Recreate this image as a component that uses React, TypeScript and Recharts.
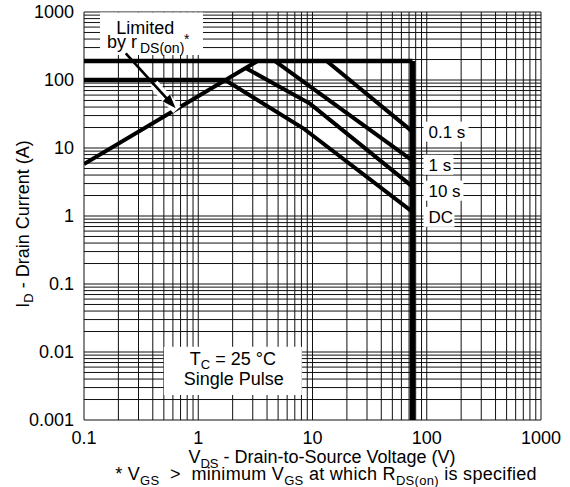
import React from 'react';
import {
  LineChart,
  Line,
  XAxis,
  YAxis,
  CartesianGrid,
  ReferenceArea,
  ReferenceLine,
  ReferenceDot,
} from 'recharts';

const FONT = '"Liberation Sans", Arial, Helvetica, sans-serif';

// axis ticks (major decades)
const xTicks = [0.1, 1, 10, 100, 1000];
const yTicks = [0.001, 0.01, 0.1, 1, 10, 100, 1000];
// log grid: decade starts x mantissas 1..9
const mantissas = [1, 2, 3, 4, 5, 6, 7, 8, 9];
const xDecades = [0.1, 1, 10, 100];
const yDecades = [0.001, 0.01, 0.1, 1, 10, 100];
const xGrid = [...xDecades.flatMap((d) => mantissas.map((m) => +(d * m).toPrecision(3))), 1000];
const yGrid = [...yDecades.flatMap((d) => mantissas.map((m) => +(d * m).toPrecision(3))), 1000];

// series (V in volts, I in amperes)
const packageLimit = [
  { v: 0.1, i: 190 },
  { v: 75, i: 190 },
];
const breakdownLimit = [
  { v: 75, i: 190 },
  { v: 75, i: 0.001 },
];
const currentLimit = [
  { v: 0.1, i: 100 },
  { v: 1.72, i: 100 },
];
const rdsLimit = [
  { v: 0.1, i: 5.8 },
  { v: 3.3, i: 190 },
];
const dcCurve = [
  { v: 1.72, i: 100 },
  { v: 8.3, i: 19.5 },
  { v: 75, i: 1.15 },
];
const s10Curve = [
  { v: 2.6, i: 150 },
  { v: 9.5, i: 45 },
  { v: 75, i: 2.7 },
];
const s1Curve = [
  { v: 4.7, i: 190 },
  { v: 75, i: 6.5 },
];
const s01Curve = [
  { v: 13.3, i: 190 },
  { v: 75, i: 17.4 },
];

const curveLabels = [
  { text: '0.1 s', data: s01Curve, w: 45, dy: 0 },
  { text: '1 s', data: s1Curve, w: 30, dy: 4 },
  { text: '10 s', data: s10Curve, w: 40, dy: 4 },
  { text: 'DC', data: dcCurve, w: 31, dy: 5 },
];

const scaleFn = (axis: any) => {
  const s = axis && axis.scale;
  return (v: number) => {
    if (typeof s === 'function') return s(v);
    if (s && typeof s.map === 'function') return s.map(v);
    return NaN;
  };
};

const ArrowShape = (props: any) => {
  const { x1, y1, x2, y2 } = props;
  if (![x1, y1, x2, y2].every((n: any) => Number.isFinite(n))) return null;
  const dx = x2 - x1;
  const dy = y2 - y1;
  const len = Math.sqrt(dx * dx + dy * dy);
  const ux = dx / len;
  const uy = dy / len;
  const headL = 14;
  const headW = 5;
  const bx = x2 - ux * headL;
  const by = y2 - uy * headL;
  const px = -uy;
  const py = ux;
  const hx = x1 + dx * 0.56;
  const hy = y1 + dy * 0.56;
  return (
    <g>
      <line x1={hx} y1={hy} x2={x2 + ux * 2} y2={y2 + uy * 2} stroke="#fff" strokeWidth={10} />
      <line x1={x1} y1={y1} x2={bx + ux * 2} y2={by + uy * 2} stroke="#000" strokeWidth={2.6} />
      <polygon
        points={`${x2},${y2} ${bx + px * headW},${by + py * headW} ${bx - px * headW},${by - py * headW}`}
        fill="#000"
      />
    </g>
  );
};

const LimitedLabel = (props: any) => {
  const vb = props.viewBox || { x: 100, y: 13, width: 103, height: 42 };
  const cx = vb.x + vb.width * 0.44;
  return (
    <g fontFamily={FONT} fill="#000">
      <text x={cx} y={vb.y + 21} textAnchor="middle" fontSize={18}>
        Limited
      </text>
      <text x={vb.x + 7} y={vb.y + 35} textAnchor="start" fontSize={18}>
        by r
      </text>
      <text x={vb.x + 40} y={vb.y + 40} textAnchor="start" fontSize={14}>
        DS(on)
      </text>
      <text x={vb.x + 84} y={vb.y + 31} textAnchor="start" fontSize={14}>
        *
      </text>
    </g>
  );
};

const TcLabel = (props: any) => {
  const vb = props.viewBox || { x: 164, y: 347, width: 138, height: 48 };
  const cx = vb.x + vb.width / 2;
  return (
    <g fontFamily={FONT} fill="#000">
      <text x={cx} y={vb.y + 18} textAnchor="middle" fontSize={18}>
        <tspan>T</tspan>
        <tspan dy={4} fontSize={13}>C</tspan>
        <tspan dy={-4}> = 25 °C</tspan>
      </text>
      <text x={cx + 1} y={vb.y + 38} textAnchor="middle" fontSize={18}>
        Single Pulse
      </text>
    </g>
  );
};

const makeCurveLabel = (text: string, w: number, dy: number) => (props: any) => {
  const { cx, cy } = props;
  if (!Number.isFinite(cx) || !Number.isFinite(cy)) return null;
  return (
    <g>
      <rect x={cx + 11} y={cy + dy - 10} width={w} height={20} fill="#fff" />
      <text x={cx + 16} y={cy + dy + 6} fontSize={17} fontFamily={FONT} fill="#000">
        {text}
      </text>
    </g>
  );
};

const Titles = () => (
  <svg
    width={570}
    height={487}
    style={{ position: 'absolute', left: 0, top: 0, pointerEvents: 'none' }}
    fontFamily={FONT}
  >
    <text
      transform="rotate(-90)"
      x={-224}
      y={29}
      textAnchor="middle"
      fontSize={18}
      fill="#000"
    >
      <tspan>I</tspan>
      <tspan dy={4} fontSize={13}>D</tspan>
      <tspan dy={-4}> - Drain Current (A)</tspan>
    </text>
    <text x={322} y={463} textAnchor="middle" fontSize={18} fill="#000">
      <tspan>V</tspan>
      <tspan dy={5} fontSize={13}>DS</tspan>
      <tspan dy={-5}> - Drain-to-Source Voltage (V)</tspan>
    </text>
    <text
      x={326}
      y={480}
      textAnchor="middle"
      fontSize={18}
      fill="#000"
      letterSpacing={0.3}
      style={{ whiteSpace: 'pre' }}
    >
      <tspan>* V</tspan>
      <tspan dy={5} fontSize={13}>GS</tspan>
      <tspan dy={-5}>{'  >  minimum V'}</tspan>
      <tspan dy={5} fontSize={13}>GS</tspan>
      <tspan dy={-5}> at which R</tspan>
      <tspan dy={5} fontSize={13}>DS(on)</tspan>
      <tspan dy={-5}> is specified</tspan>
    </text>
  </svg>
);

const seriesList = [
  { key: 'pkg', data: packageLimit, w: 4.5 },
  { key: 'bv', data: breakdownLimit, w: 5.5 },
  { key: 'cur', data: currentLimit, w: 4.5 },
  { key: 'rds', data: rdsLimit, w: 4 },
  { key: 'dc', data: dcCurve, w: 4 },
  { key: 's10', data: s10Curve, w: 4 },
  { key: 's1', data: s1Curve, w: 4 },
  { key: 's01', data: s01Curve, w: 4 },
];

export default function App() {
  return (
    <div style={{ position: 'absolute', left: 0, top: 0, width: 570, height: 487, background: '#fff' }}>
      <LineChart width={570} height={487} margin={{ top: 12, right: 29, left: 14, bottom: 0 }}>
        <CartesianGrid
          stroke="#111"
          strokeWidth={1}
          verticalCoordinatesGenerator={(p: any) => xGrid.map(scaleFn(p.xAxis)).filter((n) => Number.isFinite(n))}
          horizontalCoordinatesGenerator={(p: any) => yGrid.map(scaleFn(p.yAxis)).filter((n) => Number.isFinite(n))}
        />
        <XAxis
          dataKey="v"
          type="number"
          scale="log"
          domain={[0.1, 1000]}
          ticks={xTicks}
          interval={0}
          allowDataOverflow
          tickLine={false}
          axisLine={false}
          tickMargin={5}
          height={67}
          tick={{ fill: '#000', fontSize: 18, fontFamily: FONT }}
        />
        <YAxis
          type="number"
          scale="log"
          domain={[0.001, 1000]}
          ticks={yTicks}
          interval={0}
          allowDataOverflow
          tickLine={false}
          axisLine={false}
          tickMargin={4}
          width={70}
          tick={{ fill: '#000', fontSize: 18, fontFamily: FONT }}
        />
        <ReferenceArea
          x1={0.138}
          x2={1.1}
          y1={233}
          y2={980}
          fill="#fff"
          fillOpacity={1}
          stroke="none"
          label={<LimitedLabel />}
        />
        <ReferenceArea
          x1={0.5}
          x2={8.07}
          y1={0.00233}
          y2={0.0119}
          fill="#fff"
          fillOpacity={1}
          stroke="none"
          label={<TcLabel />}
        />
        {seriesList.map((s) => (
          <Line
            key={s.key}
            data={s.data}
            dataKey="i"
            type="linear"
            stroke="#000"
            strokeWidth={s.w}
            dot={false}
            activeDot={false}
            isAnimationActive={false}
          />
        ))}
        <ReferenceLine
          segment={[
            { x: 0.232, y: 247 },
            { x: 0.634, y: 38.4 },
          ]}
          shape={ArrowShape}
        />
        {curveLabels.map((c) => {
          const last = c.data[c.data.length - 1];
          return (
            <ReferenceDot
              key={c.text}
              x={last.v}
              y={last.i}
              r={0}
              shape={makeCurveLabel(c.text, c.w, c.dy)}
            />
          );
        })}
      </LineChart>
      <Titles />
    </div>
  );
}
